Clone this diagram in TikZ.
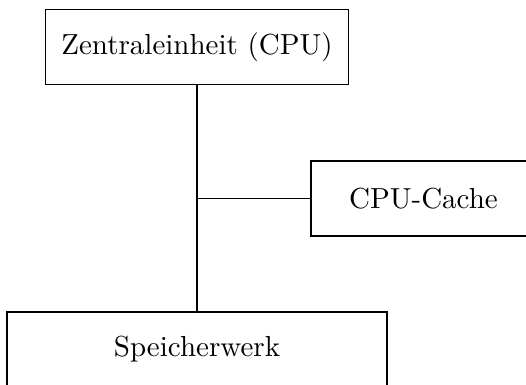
\documentclass[tikz,border=0pt]{standalone}
\begin{document}
\begin{tikzpicture}[x=0.3448pt,y=-0.3448pt,
  box/.style={draw, line width=0.4pt, inner sep=0pt, minimum height=25.9pt},
  conn/.style={draw, line width=0.4pt}]
\useasboundingbox (0,0) rectangle (526,385);
\clip (0,0) rectangle (526,385);
\node[box, minimum width=104.5pt] (cpu) at (197,47) {Zentraleinheit (CPU)};
\node[box, minimum width=77.6pt] (cache) at (423.5,198.5) {CPU-Cache};
\node[box, minimum width=131pt] (mem) at (197,349.5) {Speicherwerk};
\coordinate (j) at (cpu.south |- cache.west);
\draw[conn] (cpu.south) -- (mem.north);
\draw[conn] (j) -- (cache.west);
\end{tikzpicture}
\end{document}
